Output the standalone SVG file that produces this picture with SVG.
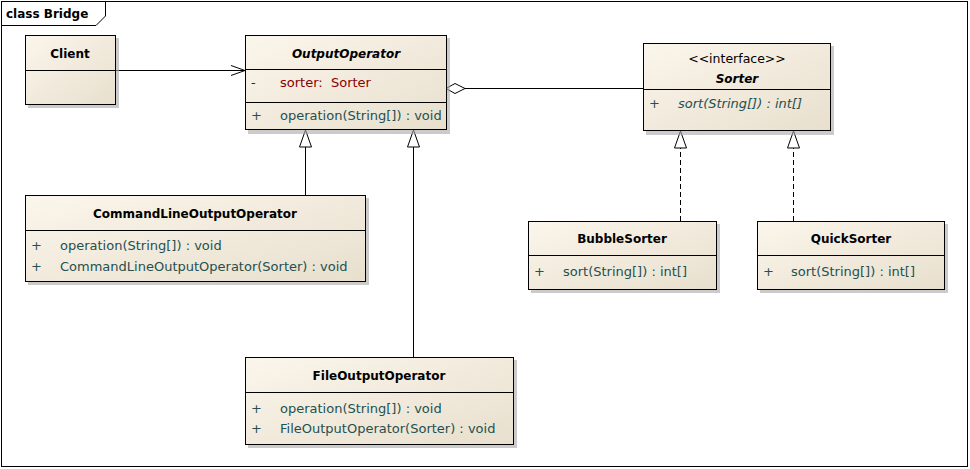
<svg xmlns="http://www.w3.org/2000/svg" width="970" height="469" viewBox="0 0 970 469">
<defs>
<linearGradient id="g" x1="0" y1="0" x2="1" y2="1">
<stop offset="0" stop-color="#FBF6EC"/>
<stop offset="1" stop-color="#E8DFCD"/>
</linearGradient>
<marker id="open" markerWidth="16" markerHeight="12" refX="15" refY="6" orient="auto" markerUnits="userSpaceOnUse">
<path d="M1,1 L15,6 L1,11" fill="none" stroke="#000" stroke-width="1"/>
</marker>
<marker id="tri" markerWidth="14" markerHeight="20" refX="7" refY="1" orient="0" markerUnits="userSpaceOnUse">
<path d="M7,1 L13,18 L1,18 Z" fill="#fff" stroke="#000" stroke-width="1"/>
</marker>
<marker id="dia" markerWidth="22" markerHeight="12" refX="1" refY="6" orient="0" markerUnits="userSpaceOnUse">
<path d="M1,6 L10,1 L20,6 L10,11 Z" fill="#fff" stroke="#000" stroke-width="1"/>
</marker>
</defs>
<style>
text{white-space:pre}
.box{fill:url(#g);stroke:#000;stroke-width:1}
.sh{fill:#A8A8A8;opacity:0.6}
.div{stroke:#000;stroke-width:1}
.name{font-family:"DejaVu Sans",Verdana,sans-serif;font-size:12px;font-weight:bold;fill:#000;text-anchor:middle}
.it{font-style:italic}
.st{font-family:"DejaVu Sans",Verdana,sans-serif;font-size:12.5px;fill:#000;text-anchor:middle}
.op{font-family:"DejaVu Sans",Verdana,sans-serif;font-size:13px;fill:#245050}
.at{font-family:"DejaVu Sans",Verdana,sans-serif;font-size:13px;fill:#8B0000}
.ln{fill:none;stroke:#000;stroke-width:1}
.dash{stroke-dasharray:5,3}
</style>
<rect x="0" y="0" width="970" height="469" fill="#fff"/>
<g id="frame">
<rect x="1.5" y="1.5" width="966" height="465" fill="none" stroke="#000" stroke-width="1"/>
<path d="M1.5,25.5 H96 L105.5,16 V1.5" fill="none" stroke="#000" stroke-width="1"/>
<text x="6" y="18" font-family="DejaVu Sans,Verdana,sans-serif" font-size="12" font-weight="bold">class Bridge</text>
</g>
<g id="connectors">
<line class="ln" x1="115" y1="70.5" x2="245" y2="70.5" marker-end="url(#open)"/>
<line class="ln" x1="446" y1="88.5" x2="643" y2="88.5" marker-start="url(#dia)"/>
<line class="ln" x1="305.5" y1="195" x2="305.5" y2="130" marker-end="url(#tri)"/>
<line class="ln" x1="413.5" y1="357" x2="413.5" y2="130" marker-end="url(#tri)"/>
<line class="ln dash" x1="680.5" y1="221" x2="680.5" y2="131" marker-end="url(#tri)"/>
<line class="ln dash" x1="793.5" y1="221" x2="793.5" y2="131" marker-end="url(#tri)"/>
</g>
<g id="Client">
<rect class="sh" x="28" y="38" width="91" height="70"/>
<rect class="box" x="25.5" y="35.5" width="90" height="69"/>
<line class="div" x1="25.5" y1="70.5" x2="115.5" y2="70.5"/>
<text class="name" x="70" y="58">Client</text>
</g>
<g id="OutputOperator">
<rect class="sh" x="248" y="38" width="202" height="96"/>
<rect class="box" x="245.5" y="35.5" width="201" height="94"/>
<line class="div" x1="245.5" y1="69.5" x2="446.5" y2="69.5"/>
<line class="div" x1="245.5" y1="102.5" x2="446.5" y2="102.5"/>
<text class="name it" x="346" y="58">OutputOperator</text>
<text class="at" x="251" y="87">-</text>
<text class="at" x="280" y="87">sorter:  Sorter</text>
<text class="op" x="251" y="120">+</text>
<text class="op" x="280" y="120">operation(String[]) : void</text>
</g>
<g id="Sorter">
<rect class="sh" x="646" y="46" width="188" height="89"/>
<rect class="box" x="643.5" y="43.5" width="187" height="87"/>
<line class="div" x1="643.5" y1="89.5" x2="830.5" y2="89.5"/>
<text class="st" x="737" y="63">&lt;&lt;interface&gt;&gt;</text>
<text class="name it" x="737" y="83">Sorter</text>
<text class="op" x="649" y="108">+</text>
<text class="op it" x="678" y="108">sort(String[]) : int[]</text>
</g>
<g id="CommandLineOutputOperator">
<rect class="sh" x="28" y="198" width="341" height="87"/>
<rect class="box" x="25.5" y="195.5" width="340" height="86"/>
<line class="div" x1="25.5" y1="230.5" x2="365.5" y2="230.5"/>
<text class="name" x="195" y="218">CommandLineOutputOperator</text>
<text class="op" x="31" y="250">+</text>
<text class="op" x="60" y="250">operation(String[]) : void</text>
<text class="op" x="31" y="271">+</text>
<text class="op" x="60" y="271">CommandLineOutputOperator(Sorter) : void</text>
</g>
<g id="FileOutputOperator">
<rect class="sh" x="248" y="360" width="269" height="88"/>
<rect class="box" x="245.5" y="357.5" width="268" height="87"/>
<line class="div" x1="245.5" y1="392.5" x2="513.5" y2="392.5"/>
<text class="name" x="379" y="380">FileOutputOperator</text>
<text class="op" x="251" y="413">+</text>
<text class="op" x="280" y="413">operation(String[]) : void</text>
<text class="op" x="251" y="433">+</text>
<text class="op" x="280" y="433">FileOutputOperator(Sorter) : void</text>
</g>
<g id="BubbleSorter">
<rect class="sh" x="531" y="224" width="189" height="69"/>
<rect class="box" x="528.5" y="221.5" width="188" height="68"/>
<line class="div" x1="528.5" y1="255.5" x2="716.5" y2="255.5"/>
<text class="name" x="622" y="243">BubbleSorter</text>
<text class="op" x="534" y="276">+</text>
<text class="op" x="563" y="276">sort(String[]) : int[]</text>
</g>
<g id="QuickSorter">
<rect class="sh" x="760" y="224" width="188" height="69"/>
<rect class="box" x="757.5" y="221.5" width="187" height="68"/>
<line class="div" x1="757.5" y1="255.5" x2="944.5" y2="255.5"/>
<text class="name" x="851" y="243">QuickSorter</text>
<text class="op" x="763" y="276">+</text>
<text class="op" x="791" y="276">sort(String[]) : int[]</text>
</g>
</svg>
